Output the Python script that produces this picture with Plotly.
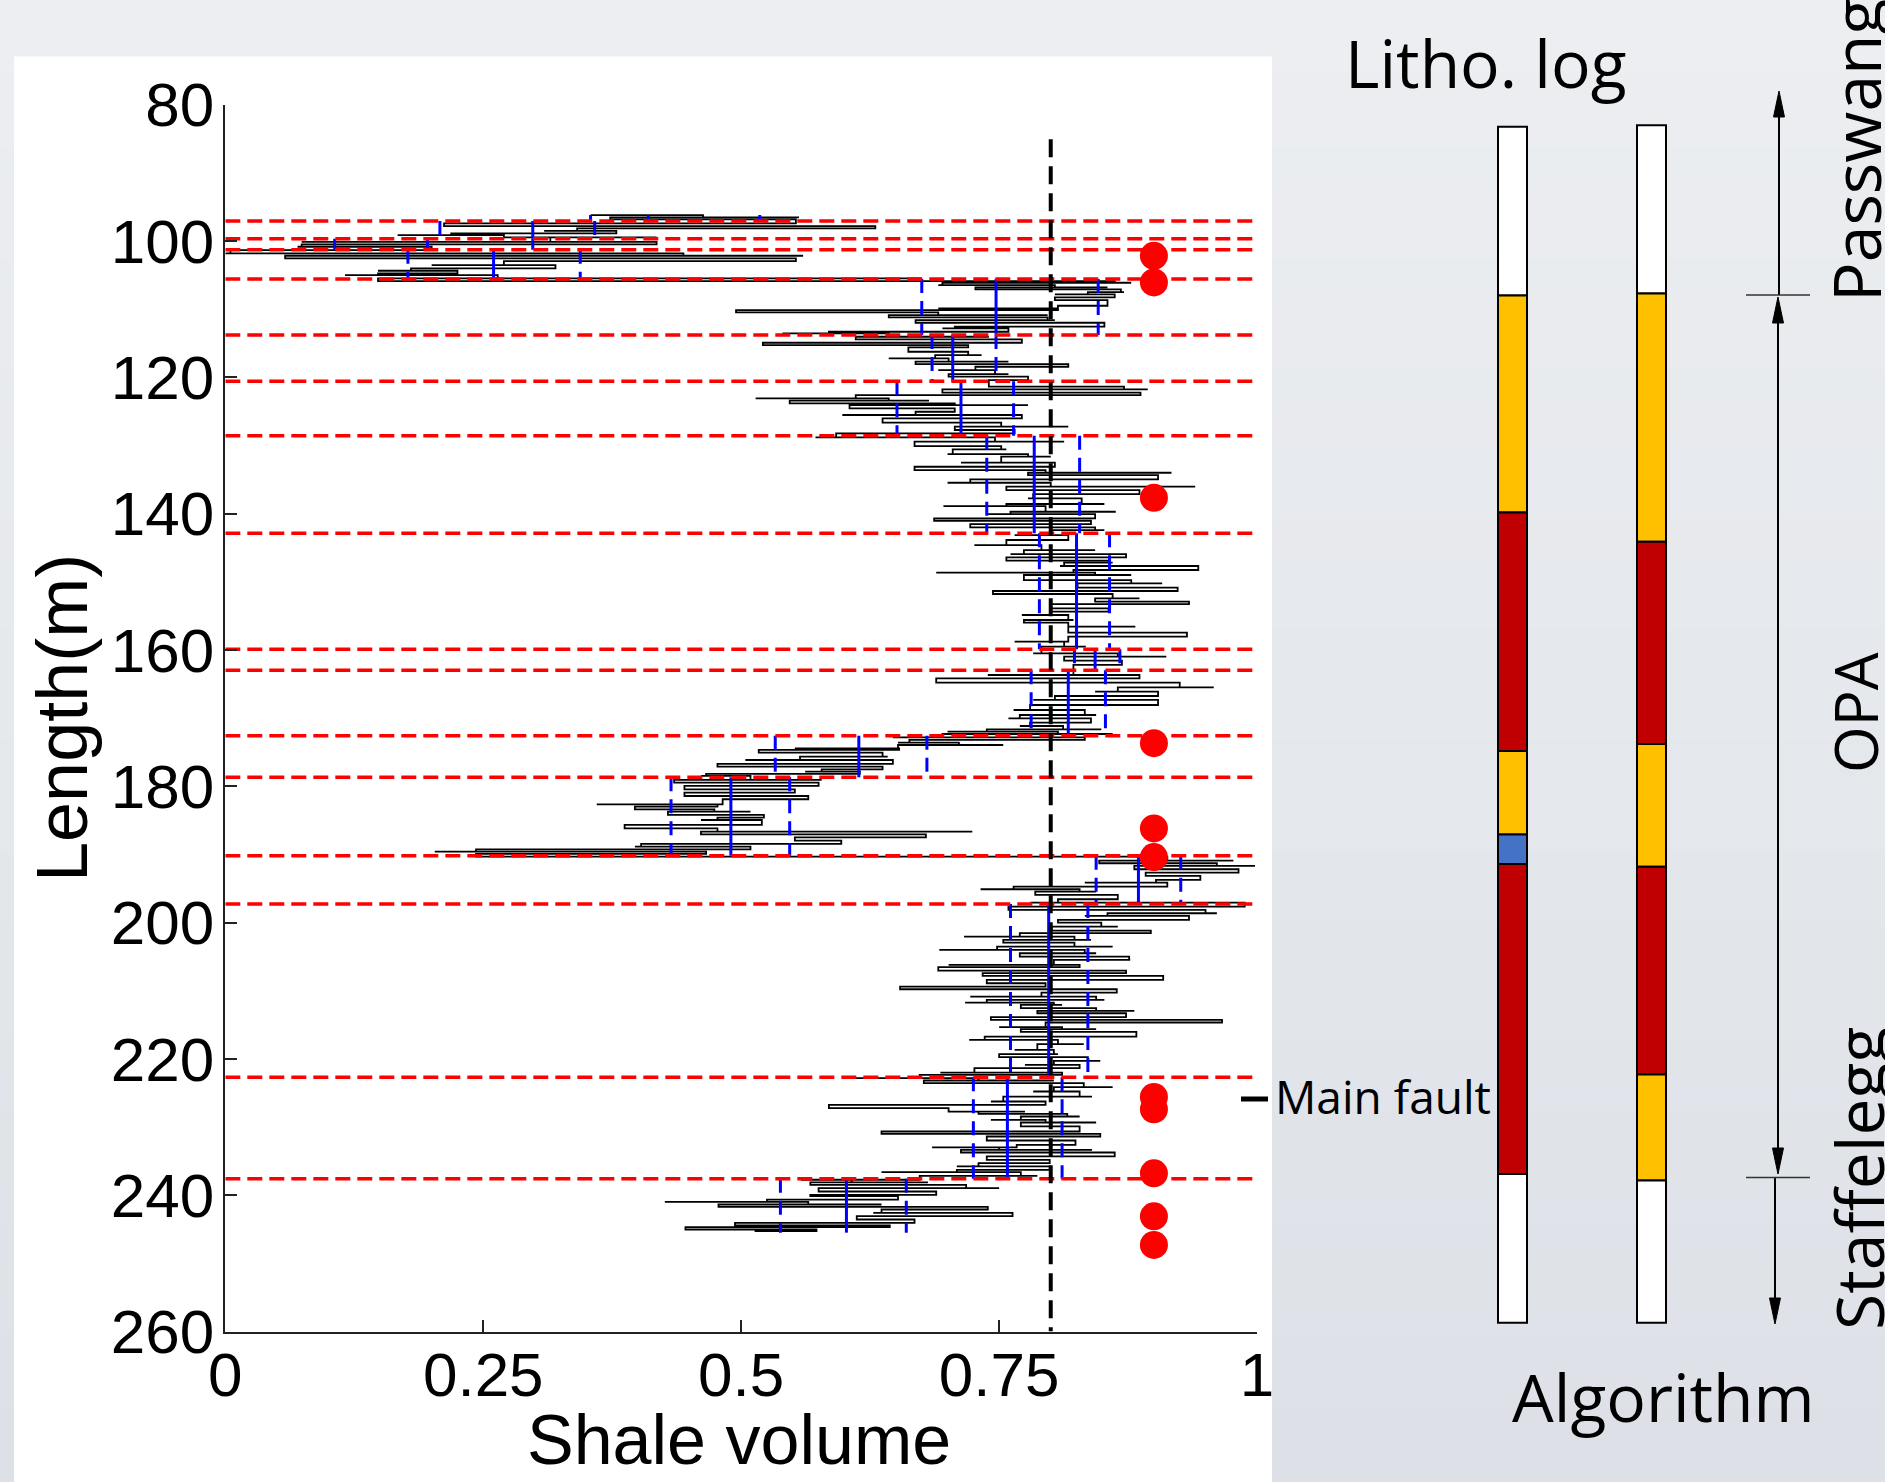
import plotly.graph_objects as go

W, H = 1885, 1482


def px(x):
    return x / W


def py(y):
    return 1 - y / H


# ---------------- data ----------------
# Shale-volume log: horizontal strokes (depth, left value, right value)
log_depth = [
    96.23, 96.57, 96.86, 97.45, 97.84, 98.18, 98.53, 98.92, 99.16, 99.50, 100.14, 100.53,
    100.87, 101.36, 101.85, 102.19, 102.58, 102.97, 103.56, 104.05, 104.39, 104.78, 105.03, 105.52,
    105.91, 106.15, 106.49, 106.84, 107.13, 107.52, 107.86, 108.30, 108.69, 109.52, 109.91, 110.16,
    110.50, 110.89, 111.23, 111.63, 112.02, 112.60, 112.85, 113.34, 113.58,
    114.07, 114.46, 114.95, 115.29, 115.63, 116.27, 116.76, 117.25, 117.73, 118.08, 118.47, 118.96,
    119.54, 119.93, 120.42,
    121.40, 121.79, 122.28, 122.62, 123.11, 123.45, 123.84, 124.09, 124.58, 125.07, 125.55, 126.04,
    126.68, 127.27, 127.75, 128.24, 128.83,
    129.47, 130.11, 130.60, 131.28, 131.67, 132.55, 133.14, 133.63, 134.02, 134.36, 135.00, 135.49,
    136.07, 136.56, 137.15, 137.78, 138.61, 138.91, 139.74, 140.08, 140.72, 141.06, 141.55, 142.04, 142.43,
    143.16, 143.89, 144.63, 145.36, 145.95, 146.43, 146.92, 147.22, 147.70, 148.29, 148.68, 149.02,
    149.76, 150.25, 150.88, 151.37, 151.81, 152.45, 152.93, 153.28, 153.91, 154.40, 154.89, 155.62,
    156.01, 156.60, 157.48, 158.07, 158.80, 159.53,
    160.51, 161.00, 161.59, 162.22,
    163.69, 164.18, 164.81, 165.50, 166.13, 166.77, 167.35, 168.09, 168.83, 169.56, 170.05, 170.68,
    171.17, 171.66, 172.00, 172.35,
    172.83, 173.22, 173.62, 173.96, 174.45, 174.69, 175.08, 175.67, 176.16, 176.74, 177.14, 177.53,
    177.87, 178.21, 178.50,
    179.09, 179.48, 179.97, 180.46, 180.95, 181.44, 181.92, 182.66, 183.00, 183.39, 183.73, 184.22,
    184.61, 184.96, 185.69, 186.18, 186.67, 187.06, 187.50, 187.99, 188.47, 188.87, 189.26, 189.60, 189.94,
    190.33, 190.92, 191.31, 191.70, 192.19, 192.68, 193.17, 193.75, 194.15, 194.73, 195.12, 195.46,
    195.95, 196.59, 197.08,
    197.66, 198.15, 198.64, 199.03, 199.62, 200.01, 200.60, 201.18, 201.57, 202.06, 202.55, 202.94,
    203.53, 204.02, 204.51, 205.00, 205.49, 206.22, 206.56, 207.05, 207.44, 207.83, 208.42, 208.91,
    209.40, 209.79, 210.28, 210.86, 211.35, 211.74, 212.08, 212.57, 212.96, 213.31, 213.89, 214.28,
    214.67, 215.36, 215.65, 216.04, 216.73, 217.22, 217.85, 218.68, 219.32, 219.76, 220.30, 220.88,
    221.37, 222.01, 222.35, 222.84,
    223.18, 223.57, 224.16, 224.79, 225.53, 226.26, 226.75, 227.24, 227.73, 228.07, 228.46, 228.95,
    229.34, 229.92, 230.66, 231.00, 231.39, 231.98, 232.61, 233.00, 233.35, 233.74, 234.32, 234.81,
    235.30, 235.79, 236.28, 236.62, 237.16,
    237.74, 238.13, 238.48, 238.97, 239.46, 239.95, 240.15, 240.64, 240.98, 241.37, 241.71, 242.10,
    242.59, 243.08, 243.57, 244.06, 244.45, 244.69, 245.04, 245.28,
]
log_left = [
    0.354, 0.373, 0.463, 0.212, 0.228, 0.341, 0.309, 0.219, 0.167, 0.315, 0.074, 0.074,
    0.070, 0.005, 0.000, 0.058, 0.320, 0.270, 0.200, 0.180, 0.148, 0.148, 0.116, 0.148,
    0.675, 0.695, 0.691, 0.727, 0.781, 0.836, 0.804, 0.804, 0.836, 0.807, 0.691, 0.495,
    0.530, 0.643, 0.701, 0.669, 0.701, 0.707, 0.695, 0.585, 0.540,
    0.611, 0.662, 0.521, 0.617, 0.662, 0.688, 0.688, 0.643, 0.669, 0.704, 0.727, 0.691,
    0.701, 0.714, 0.740,
    0.804, 0.695, 0.740, 0.611, 0.514, 0.547, 0.617, 0.605, 0.643, 0.669, 0.598, 0.637,
    0.675, 0.707, 0.720, 0.592, 0.572,
    0.668, 0.726, 0.705, 0.700, 0.752, 0.713, 0.668, 0.683, 0.778, 0.835, 0.722, 0.700,
    0.757, 0.796, 0.783, 0.778, 0.757, 0.696, 0.761, 0.739, 0.687, 0.713, 0.722, 0.791, 0.800,
    0.765, 0.757, 0.726, 0.774, 0.761, 0.757, 0.800, 0.813, 0.809, 0.822, 0.689, 0.774,
    0.817, 0.826, 0.834, 0.744, 0.817, 0.843, 0.856, 0.800, 0.813, 0.800, 0.772, 0.774,
    0.783, 0.817, 0.856, 0.817, 0.765, 0.791,
    0.783, 0.813, 0.822, 0.822,
    0.739, 0.689, 0.843, 0.865, 0.843, 0.804, 0.783, 0.780, 0.764, 0.770, 0.759, 0.780,
    0.770, 0.738, 0.700, 0.695,
    0.647, 0.663, 0.652, 0.652, 0.552, 0.517, 0.552, 0.557, 0.504, 0.477, 0.504, 0.578,
    0.562, 0.466, 0.461,
    0.435, 0.466, 0.445, 0.453, 0.445, 0.514, 0.482, 0.360, 0.397, 0.440, 0.429, 0.461,
    0.477, 0.461, 0.387, 0.445, 0.461, 0.557, 0.552, 0.552, 0.403, 0.397, 0.243, 0.203, 0.243,
    0.839, 0.847, 0.860, 0.881, 0.902, 0.892, 0.897, 0.902, 0.833, 0.764, 0.732, 0.785,
    0.828, 0.807, 0.780,
    0.759, 0.823, 0.855, 0.833, 0.807, 0.807, 0.801, 0.807, 0.770, 0.716, 0.754, 0.759,
    0.748, 0.692, 0.770, 0.780, 0.803, 0.701, 0.691, 0.771, 0.734, 0.803, 0.738, 0.746,
    0.654, 0.697, 0.791, 0.722, 0.738, 0.717, 0.771, 0.795, 0.787, 0.811, 0.742, 0.803,
    0.795, 0.750, 0.771, 0.775, 0.736, 0.721, 0.787, 0.765, 0.750, 0.791, 0.803, 0.775,
    0.726, 0.693, 0.673, 0.611,
    0.677, 0.730, 0.803, 0.783, 0.754, 0.742, 0.585, 0.603, 0.730, 0.767, 0.771, 0.742,
    0.771, 0.771, 0.636, 0.697, 0.738, 0.754, 0.767, 0.685, 0.713, 0.750, 0.738, 0.742,
    0.730, 0.709, 0.709, 0.636, 0.673,
    0.558, 0.567, 0.579, 0.575, 0.579, 0.567, 0.573, 0.525, 0.426, 0.478, 0.573, 0.636,
    0.628, 0.612, 0.612, 0.494, 0.573, 0.446, 0.494, 0.513,
]
log_right = [
    0.463, 0.556, 0.553, 0.347, 0.630, 0.547, 0.379, 0.302, 0.270, 0.418, 0.418, 0.225,
    0.200, 0.190, 0.444, 0.560, 0.553, 0.424, 0.320, 0.212, 0.225, 0.206, 0.264, 0.675,
    0.862, 0.878, 0.804, 0.855, 0.868, 0.871, 0.862, 0.855, 0.855, 0.855, 0.807, 0.643,
    0.691, 0.797, 0.797, 0.804, 0.852, 0.772, 0.759, 0.707, 0.643,
    0.740, 0.772, 0.643, 0.720, 0.707, 0.720, 0.733, 0.701, 0.759, 0.817, 0.772, 0.746,
    0.759, 0.778, 0.778,
    0.871, 0.894, 0.887, 0.797, 0.643, 0.682, 0.707, 0.778, 0.707, 0.695, 0.772, 0.746,
    0.752, 0.817, 0.765, 0.643, 0.746,
    0.813, 0.752, 0.757, 0.778, 0.800, 0.804, 0.774, 0.795, 0.917, 0.904, 0.835, 0.800,
    0.940, 0.886, 0.817, 0.830, 0.852, 0.795, 0.863, 0.843, 0.791, 0.839, 0.839, 0.843, 0.852,
    0.817, 0.809, 0.791, 0.843, 0.873, 0.809, 0.856, 0.860, 0.943, 0.912, 0.843, 0.878,
    0.878, 0.908, 0.923, 0.860, 0.860, 0.886, 0.934, 0.912, 0.856, 0.843, 0.817, 0.822,
    0.817, 0.882, 0.932, 0.904, 0.813, 0.834,
    0.865, 0.912, 0.869, 0.856,
    0.886, 0.804, 0.925, 0.958, 0.904, 0.886, 0.904, 0.855, 0.833, 0.844, 0.839, 0.828,
    0.812, 0.849, 0.807, 0.860,
    0.833, 0.770, 0.711, 0.754, 0.653, 0.647, 0.637, 0.642, 0.647, 0.578, 0.637, 0.621,
    0.615, 0.541, 0.509,
    0.578, 0.575, 0.552, 0.552, 0.541, 0.565, 0.562, 0.477, 0.456, 0.474, 0.509, 0.522,
    0.509, 0.520, 0.488, 0.477, 0.724, 0.679, 0.631, 0.597, 0.504, 0.509, 0.397, 0.466, 0.435,
    0.913, 0.977, 0.961, 0.998, 0.982, 0.934, 0.945, 0.924, 0.913, 0.876, 0.828, 0.844,
    0.865, 0.860, 0.988,
    0.833, 0.950, 0.961, 0.934, 0.860, 0.849, 0.865, 0.897, 0.860, 0.823, 0.839, 0.823,
    0.860, 0.833, 0.844, 0.876, 0.877, 0.828, 0.754, 0.873, 0.832, 0.909, 0.799, 0.795,
    0.795, 0.864, 0.832, 0.844, 0.852, 0.803, 0.811, 0.844, 0.881, 0.873, 0.795, 0.966,
    0.926, 0.811, 0.844, 0.883, 0.811, 0.807, 0.832, 0.803, 0.807, 0.836, 0.848, 0.828,
    0.820, 0.811, 0.771, 0.730,
    0.803, 0.832, 0.860, 0.828, 0.840, 0.795, 0.701, 0.701, 0.775, 0.816, 0.828, 0.795,
    0.844, 0.828, 0.795, 0.848, 0.836, 0.824, 0.803, 0.750, 0.840, 0.862, 0.840, 0.799,
    0.783, 0.799, 0.754, 0.771, 0.787,
    0.607, 0.681, 0.718, 0.750, 0.689, 0.685, 0.652, 0.573, 0.565, 0.636, 0.739, 0.731,
    0.763, 0.668, 0.668, 0.620, 0.644, 0.581, 0.573, 0.557,
]

# Segment boundaries (red dashed lines), depth in m
boundary_depth = [97.1, 99.7, 101.3, 105.6, 113.8, 120.6, 128.6, 142.9,
                  159.9, 163.0, 172.6, 178.7, 190.2, 197.3, 222.7, 237.6]

# Segment statistics (blue lines): top, bottom, mean, mean-std, mean+std
seg_top = [96.2, 97.1, 99.7, 101.3, 105.6, 113.8, 120.6, 128.6, 142.9,
           159.9, 163.0, 172.6, 178.7, 190.2, 197.3, 222.7, 237.6]
seg_bottom = [97.1, 99.7, 101.3, 105.6, 113.8, 120.6, 128.6, 142.9, 159.9,
              163.0, 172.6, 178.7, 190.2, 197.3, 222.7, 237.6, 245.5]
seg_mean = [0.410, 0.298, 0.196, 0.260, 0.747, 0.705, 0.713, 0.784, 0.825,
            0.843, 0.817, 0.614, 0.490, 0.885, 0.798, 0.758, 0.602]
seg_low = [0.354, 0.208, 0.106, 0.177, 0.675, 0.685, 0.651, 0.738, 0.789,
           0.823, 0.781, 0.533, 0.432, 0.844, 0.761, 0.725, 0.538]
seg_high = [0.518, 0.358, 0.298, 0.344, 0.846, 0.747, 0.764, 0.828, 0.857,
            0.867, 0.853, 0.680, 0.547, 0.926, 0.836, 0.811, 0.660]

# Red markers
dot_depth = [102.2, 106.1, 137.7, 173.7, 186.2, 190.4, 225.6, 227.4, 236.8, 243.1, 247.3]
dot_vsh = [0.9, 0.9, 0.9, 0.9, 0.9, 0.9, 0.9, 0.9, 0.9, 0.9, 0.9]

# Cut-off line
cutoff_vsh = [0.8, 0.8]
cutoff_depth = [85.1, 260.0]

# Axis ticks
x_tickvals = [0, 0.25, 0.5, 0.75, 1]
x_ticktext = ["0", "0.25", "0.5", "0.75", "1"]
y_tickvals = [80, 100, 120, 140, 160, 180, 200, 220, 240, 260]

# Lithology columns (top / bottom depth and colour class)
litho_top = [83.26, 108.02, 139.87, 174.84, 187.10, 191.41, 236.89]
litho_bottom = [108.02, 139.87, 174.84, 187.10, 191.41, 236.89, 258.70]
litho_class = ["none", "sandy", "shaly", "sandy", "carbonate", "shaly", "none"]
algo_top = [83.05, 107.74, 144.16, 173.81, 191.82, 222.28, 237.84]
algo_bottom = [107.74, 144.16, 173.81, 191.82, 222.28, 237.84, 258.70]
algo_class = ["none", "sandy", "shaly", "sandy", "shaly", "sandy", "none"]
class_colors = {"none": "#ffffff", "sandy": "#ffc000", "shaly": "#c00000", "carbonate": "#4472c4"}

# ---------------- figure ----------------
fig = go.Figure()

# black log: strokes joined by short vertical steps
lx, ly = [], []
for i, (d, a, b) in enumerate(zip(log_depth, log_left, log_right)):
    if i % 2 == 0:
        lx += [a, b]
    else:
        lx += [b, a]
    ly += [d, d]
fig.add_trace(go.Scatter(x=lx, y=ly, mode="lines",
                         line=dict(color="black", width=1.8, shape="vh"),
                         hoverinfo="skip"))

# blue statistics lines
bx_s, by_s, bx_d, by_d = [], [], [], []
for t, b, m, lo, hi in zip(seg_top, seg_bottom, seg_mean, seg_low, seg_high):
    bx_s += [m, m, None]
    by_s += [t, b, None]
    bx_d += [lo, lo, None, hi, hi, None]
    by_d += [t, b, None, t, b, None]
fig.add_trace(go.Scatter(x=bx_s, y=by_s, mode="lines", line=dict(color="#0000ff", width=3),
                         hoverinfo="skip"))
fig.add_trace(go.Scatter(x=bx_d, y=by_d, mode="lines",
                         line=dict(color="#0000ff", width=3, dash="14px,8px"), hoverinfo="skip"))

# red boundaries
rx, ry = [], []
for d in boundary_depth:
    rx += [0, 1, None]
    ry += [d, d, None]
fig.add_trace(go.Scatter(x=rx, y=ry, mode="lines",
                         line=dict(color="#ff0000", width=3.5, dash="15px,7px"), hoverinfo="skip"))

# cut-off
fig.add_trace(go.Scatter(x=cutoff_vsh, y=cutoff_depth, mode="lines",
                         line=dict(color="black", width=4, dash="18px,9px"), hoverinfo="skip"))

# red dots
fig.add_trace(go.Scatter(x=dot_vsh, y=dot_depth, mode="markers",
                         marker=dict(color="#ff0000", size=28, line=dict(width=0)),
                         hoverinfo="skip", cliponaxis=False))

# lithology columns as floating bars
for pos, tops, bots, cls in [(0, litho_top, litho_bottom, litho_class),
                             (1, algo_top, algo_bottom, algo_class)]:
    fig.add_trace(go.Bar(
        x=[pos] * len(tops), y=[b - t for t, b in zip(tops, bots)], base=tops,
        width=0.2086, xaxis="x2", yaxis="y",
        marker=dict(color=[class_colors[c] for c in cls], line=dict(color="black", width=2)),
        hoverinfo="skip"))

# ---------------- shapes (background, panel, arrows) ----------------
shapes = []
n = 40
top_rgb = (236, 238, 241)
bot_rgb = (221, 225, 231)
for i in range(n):
    t = i / (n - 1)
    c = tuple(round(a + (b - a) * t) for a, b in zip(top_rgb, bot_rgb))
    shapes.append(dict(type="rect", xref="paper", yref="paper", x0=0, x1=1,
                       y0=max(0, 1 - (i + 1) / n - 0.002), y1=1 - i / n,
                       fillcolor="rgb(%d,%d,%d)" % c, line=dict(width=0), layer="below"))
shapes.append(dict(type="rect", xref="paper", yref="paper", x0=px(14), x1=px(1272),
                   y0=0, y1=py(56.5), fillcolor="white", line=dict(width=0), layer="below"))


def vline(x, y0, y1, w=2):
    return dict(type="line", xref="paper", yref="paper", x0=px(x), x1=px(x), y0=py(y0), y1=py(y1),
                line=dict(color="black", width=w))


def hline(x0, x1, y, w=1.5, color="#333333"):
    return dict(type="line", xref="paper", yref="paper", x0=px(x0), x1=px(x1), y0=py(y), y1=py(y),
                line=dict(color=color, width=w))


def head(x, ytip, direction, length=26, half=5.5):
    yb = ytip + length * direction
    path = "M %f,%f L %f,%f L %f,%f Z" % (px(x), py(ytip), px(x - half), py(yb), px(x + half), py(yb))
    return dict(type="path", xref="paper", yref="paper", path=path, fillcolor="black",
                line=dict(color="black", width=1))


# Passwang arrow (up)
shapes += [vline(1779, 110, 295), head(1779, 91, 1)]
# OPA arrow (both)
shapes += [vline(1778, 318, 1152), head(1778, 297, 1), head(1778, 1174, -1)]
# Staffelegg arrow (down)
shapes += [vline(1775, 1178, 1305), head(1775, 1324, -1)]
# formation ticks
shapes += [hline(1746, 1810, 295), hline(1746, 1810, 1177.5)]
# main fault marker
shapes += [hline(1241, 1268, 1099, w=5, color="black")]

# ---------------- annotations ----------------
sans = "Open Sans, Noto Sans, sans-serif"
arial = "Liberation Sans, Arial, sans-serif"
ann = []


def text(t, x, y, size, family=sans, angle=0, xanchor="center"):
    ann.append(dict(text=t, x=px(x), y=py(y), xref="paper", yref="paper", showarrow=False,
                    font=dict(family=family, size=size, color="black"), textangle=angle,
                    xanchor=xanchor, yanchor="middle"))


text("Length(m)", 62, 718, 72, family=arial, angle=-90)
text("Shale volume", 739, 1440, 70, family=arial)
text("Litho. log", 1486, 62, 66)
text("Algorithm", 1663, 1396, 66)
text("Main fault", 1273, 1096, 46, xanchor="left")
text("Passwang", 1855, 151, 66, angle=-90)
text("OPA", 1855, 713, 60, angle=-90)
text("Staffelegg", 1858, 1179, 66, angle=-90)

axis_font = dict(family=arial, size=62, color="black")

fig.update_layout(
    template="none",
    width=W, height=H, margin=dict(l=0, r=0, t=0, b=0, autoexpand=False),
    paper_bgcolor="#e4e7ec", plot_bgcolor="rgba(0,0,0,0)",
    showlegend=False, barmode="overlay",
    shapes=shapes, annotations=ann,
    xaxis=dict(domain=[225.3 / W, 1257.1 / W], range=[0, 1], anchor="y", automargin=False,
               tickvals=x_tickvals, ticktext=x_ticktext, ticks="inside", ticklen=12,
               tickwidth=1.5, tickcolor="#222222", showline=True, linecolor="#222222",
               linewidth=1.5, showgrid=False, zeroline=False, tickfont=axis_font,
               ticklabelstandoff=-12),
    yaxis=dict(domain=[py(1331.5), py(104.5)], range=[260, 80], anchor="x", automargin=False,
               tickvals=y_tickvals, ticks="inside", ticklen=12, tickwidth=1.5,
               tickcolor="#222222", showline=True, linecolor="#222222", linewidth=1.5,
               showgrid=False, zeroline=False, tickfont=axis_font, ticklabelstandoff=-3),
    xaxis2=dict(domain=[1400 / W, 1760 / W], range=[-0.8094, 1.7806], anchor="y",
                visible=False, showgrid=False, zeroline=False, automargin=False),
)

fig.write_html("out.html")
